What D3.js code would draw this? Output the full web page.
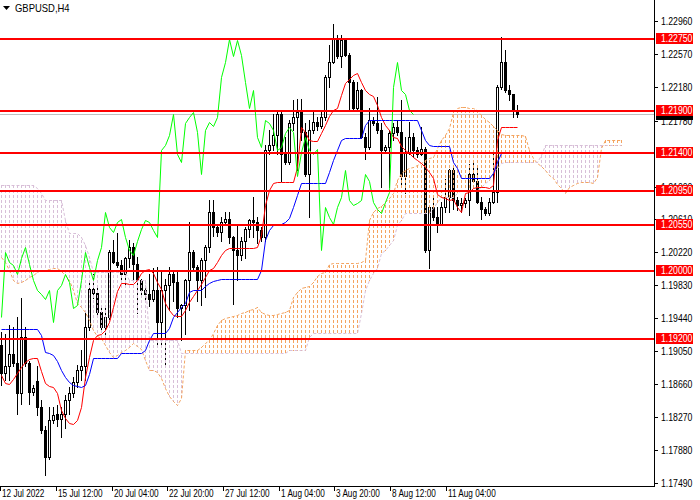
<!DOCTYPE html>
<html>
<head>
<meta charset="utf-8">
<script src="https://cdn.jsdelivr.net/npm/d3@7"></script>
<style>
  body { margin: 0; background: #fff; }
  svg { display: block; font-family: 'Liberation Sans', Arial, sans-serif; }
</style>
</head>
<body>
<script>
const symbol = 'GBPUSD,H4';

// H4 candles, oldest first
const opens = [
  1.1912, 1.1879, 1.1887, 1.1902, 1.1891, 1.1855, 1.1922, 1.1891, 1.1857, 1.1870,
  1.1839, 1.1812, 1.1780, 1.1823, 1.1831, 1.1825, 1.1831, 1.1847, 1.1855, 1.1869,
  1.1883, 1.1887, 1.1934, 1.1979, 1.1974, 1.1952, 1.1934, 1.1946, 1.2023, 1.2011,
  1.2007, 1.1997, 1.2015, 1.2029, 1.2008, 1.1989, 1.1977, 1.1973, 1.1967, 1.1977,
  1.1940, 1.1977, 1.1983, 1.1997, 1.1987, 1.1956, 1.1960, 1.1989, 1.2023, 1.2005,
  1.1989, 1.2013, 1.2029, 1.2070, 1.2052, 1.2046, 1.2058, 1.2062, 1.2040, 1.2025,
  1.2019, 1.2036, 1.2050, 1.2060, 1.2058, 1.2048, 1.2040, 1.2143, 1.2149, 1.2161,
  1.2186, 1.2139, 1.2129, 1.2175, 1.2182, 1.2188, 1.2165, 1.2115, 1.2167, 1.2177,
  1.2172, 1.2182, 1.2230, 1.2248, 1.2275, 1.2254, 1.2273, 1.2256, 1.2224, 1.2193,
  1.2214, 1.2159, 1.2147, 1.2179, 1.2175, 1.2167, 1.2143, 1.2147, 1.2163, 1.2171,
  1.2165, 1.2113, 1.2141, 1.2159, 1.2143, 1.2139, 1.2145, 1.2025, 1.2076, 1.2064,
  1.2056, 1.2076, 1.2088, 1.2119, 1.2084, 1.2078, 1.2080, 1.2084, 1.2115, 1.2107,
  1.2082, 1.2074, 1.2069, 1.2082, 1.2094, 1.2218, 1.2248, 1.2214, 1.2209, 1.2191
];
const highs = [
  1.1928, 1.1926, 1.1936, 1.1934, 1.1946, 1.1968, 1.1934, 1.1893, 1.1865, 1.1887,
  1.1847, 1.1816, 1.1839, 1.1839, 1.1841, 1.1839, 1.1853, 1.1863, 1.1875, 1.1889,
  1.1906, 1.1954, 1.1989, 1.1997, 1.1981, 1.1960, 1.1958, 1.2025, 1.2037, 1.2045,
  1.2013, 1.2017, 1.2037, 1.2033, 1.2017, 1.1991, 1.1981, 1.1997, 1.2003, 1.2005,
  1.1999, 1.1991, 1.2005, 1.1999, 1.1999, 1.1961, 1.1991, 1.2058, 1.2025, 1.2007,
  1.2015, 1.2031, 1.2084, 1.2084, 1.2054, 1.2064, 1.2070, 1.2070, 1.2042, 1.2054,
  1.2040, 1.2052, 1.2062, 1.2088, 1.2064, 1.2052, 1.2149, 1.2167, 1.2186, 1.2188,
  1.2188, 1.2159, 1.2179, 1.2202, 1.2204, 1.2204, 1.2175, 1.2179, 1.2188, 1.2182,
  1.2190, 1.2232, 1.2268, 1.2293, 1.2279, 1.2279, 1.2275, 1.2258, 1.2226, 1.2224,
  1.2216, 1.2163, 1.2193, 1.2182, 1.2206, 1.2175, 1.2149, 1.2167, 1.2175, 1.2179,
  1.2202, 1.2159, 1.2177, 1.2163, 1.2147, 1.2171, 1.2147, 1.2078, 1.2088, 1.2076,
  1.2082, 1.2109, 1.2121, 1.2123, 1.2088, 1.2086, 1.2086, 1.2127, 1.2129, 1.2125,
  1.2088, 1.2076, 1.2086, 1.2139, 1.2220, 1.2277, 1.2262, 1.2220, 1.2210, 1.2197
];
const lows = [
  1.1865, 1.1871, 1.1871, 1.1887, 1.1831, 1.1843, 1.1887, 1.1843, 1.1853, 1.1829,
  1.1808, 1.1758, 1.1778, 1.1820, 1.1816, 1.1804, 1.1814, 1.1831, 1.1851, 1.1863,
  1.1871, 1.1871, 1.1930, 1.1968, 1.1946, 1.1930, 1.1922, 1.1942, 1.2009, 1.2005,
  1.1989, 1.1985, 1.2005, 1.1989, 1.1950, 1.1969, 1.1965, 1.1958, 1.1965, 1.1914,
  1.1914, 1.1888, 1.1954, 1.1965, 1.1946, 1.1918, 1.1926, 1.1954, 1.2001, 1.1965,
  1.1960, 1.1969, 1.2023, 1.2042, 1.2042, 1.2035, 1.2056, 1.2033, 1.1961, 1.1989,
  1.2013, 1.2015, 1.2040, 1.2040, 1.2033, 1.2036, 1.2036, 1.2139, 1.2143, 1.2139,
  1.2107, 1.2127, 1.2127, 1.2167, 1.2119, 1.2155, 1.2113, 1.2064, 1.2163, 1.2167,
  1.2169, 1.2179, 1.2218, 1.2246, 1.2252, 1.2242, 1.2254, 1.2190, 1.2190, 1.2190,
  1.2157, 1.2133, 1.2145, 1.2173, 1.2163, 1.2100, 1.2141, 1.2100, 1.2155, 1.2161,
  1.2100, 1.2092, 1.2139, 1.2135, 1.2135, 1.2137, 1.2023, 1.2003, 1.2060, 1.2046,
  1.2054, 1.2070, 1.2070, 1.2074, 1.2072, 1.2070, 1.2076, 1.2066, 1.2105, 1.2080,
  1.2062, 1.2066, 1.2066, 1.2081, 1.2082, 1.2216, 1.2212, 1.2202, 1.2182, 1.2182
];
const closes = [
  1.1879, 1.1887, 1.1902, 1.1891, 1.1855, 1.1922, 1.1891, 1.1857, 1.1861, 1.1839,
  1.1812, 1.1780, 1.1823, 1.1829, 1.1825, 1.1831, 1.1847, 1.1855, 1.1869, 1.1883,
  1.1887, 1.1934, 1.1979, 1.1974, 1.1952, 1.1934, 1.1946, 1.2023, 1.2011, 1.2007,
  1.1997, 1.2015, 1.2029, 1.2008, 1.1989, 1.1977, 1.1973, 1.1967, 1.1977, 1.1940,
  1.1977, 1.1983, 1.1997, 1.1987, 1.1956, 1.1960, 1.1989, 1.2023, 1.2005, 1.1989,
  1.2013, 1.2029, 1.2070, 1.2052, 1.2046, 1.2058, 1.2062, 1.2040, 1.2025, 1.2019,
  1.2036, 1.2050, 1.2060, 1.2058, 1.2048, 1.2040, 1.2143, 1.2149, 1.2161, 1.2186,
  1.2139, 1.2129, 1.2175, 1.2182, 1.2188, 1.2165, 1.2115, 1.2167, 1.2177, 1.2172,
  1.2182, 1.2230, 1.2248, 1.2275, 1.2254, 1.2273, 1.2256, 1.2224, 1.2193, 1.2214,
  1.2159, 1.2147, 1.2179, 1.2175, 1.2167, 1.2143, 1.2147, 1.2163, 1.2171, 1.2165,
  1.2113, 1.2141, 1.2159, 1.2143, 1.2139, 1.2145, 1.2025, 1.2076, 1.2064, 1.2056,
  1.2076, 1.2088, 1.2119, 1.2084, 1.2078, 1.2080, 1.2084, 1.2115, 1.2107, 1.2082,
  1.2074, 1.2069, 1.2082, 1.2094, 1.2218, 1.2248, 1.2214, 1.2209, 1.2191, 1.2186
];

// Ichimoku lines
const tenkan = [
  1.1877, 1.1867, 1.1866, 1.1872, 1.1879, 1.1886, 1.1892, 1.1896, 1.1897, 1.1897,
  1.1882, 1.1867, 1.1864, 1.1863, 1.1856, 1.1836, 1.1826, 1.1820, 1.1819, 1.1824,
  1.1839, 1.1874, 1.1898, 1.1918, 1.1924, 1.1925, 1.1930, 1.1940, 1.1957, 1.1976,
  1.1986, 1.1986, 1.1985, 1.1985, 1.1989, 1.1998, 1.2001, 1.2002, 1.1998, 1.1987,
  1.1979, 1.1962, 1.1954, 1.1948, 1.1947, 1.1947, 1.1954, 1.1963, 1.1970, 1.1978,
  1.1985, 1.1993, 1.2001, 1.2004, 1.2011, 1.2019, 1.2025, 1.2027, 1.2027, 1.2027,
  1.2027, 1.2027, 1.2027, 1.2027, 1.2028, 1.2043, 1.2078, 1.2096, 1.2104, 1.2105,
  1.2105, 1.2105, 1.2105, 1.2105, 1.2123, 1.2171, 1.2165, 1.2155, 1.2154, 1.2154,
  1.2163, 1.2173, 1.2184, 1.2191, 1.2193, 1.2208, 1.2223, 1.2227, 1.2232, 1.2234,
  1.2224, 1.2214, 1.2210, 1.2207, 1.2197, 1.2182, 1.2173, 1.2167, 1.2159, 1.2158,
  1.2148, 1.2143, 1.2140, 1.2135, 1.2131, 1.2128, 1.2123, 1.2117, 1.2110, 1.2091,
  1.2088, 1.2086, 1.2084, 1.2085, 1.2076, 1.2070, 1.2092, 1.2094, 1.2098, 1.2100,
  1.2100, 1.2100, 1.2098, 1.2102, 1.2155, 1.2171, 1.2171, 1.2171, 1.2171, 1.2171
];
const kijun = [
  1.1931, 1.1931, 1.1931, 1.1931, 1.1931, 1.1931, 1.1931, 1.1931, 1.1931, 1.1931,
  1.1924, 1.1904, 1.1903, 1.1900, 1.1894, 1.1883, 1.1874, 1.1869, 1.1865, 1.1864,
  1.1863, 1.1865, 1.1878, 1.1897, 1.1897, 1.1897, 1.1897, 1.1897, 1.1897, 1.1897,
  1.1903, 1.1903, 1.1903, 1.1903, 1.1903, 1.1903, 1.1907, 1.1918, 1.1927, 1.1927,
  1.1927, 1.1927, 1.1932, 1.1946, 1.1951, 1.1957, 1.1962, 1.1975, 1.1978, 1.1978,
  1.1978, 1.1982, 1.1986, 1.1988, 1.1989, 1.1991, 1.1991, 1.1991, 1.1991, 1.1991,
  1.1991, 1.1991, 1.1991, 1.1991, 1.1991, 1.2001, 1.2037, 1.2049, 1.2055, 1.2056,
  1.2056, 1.2058, 1.2063, 1.2076, 1.2090, 1.2104, 1.2104, 1.2104, 1.2104, 1.2104,
  1.2104, 1.2104, 1.2117, 1.2131, 1.2143, 1.2155, 1.2158, 1.2158, 1.2158, 1.2158,
  1.2158, 1.2173, 1.2179, 1.2179, 1.2179, 1.2179, 1.2179, 1.2179, 1.2179, 1.2179,
  1.2179, 1.2179, 1.2179, 1.2179, 1.2179, 1.2167, 1.2155, 1.2149, 1.2148, 1.2148,
  1.2148, 1.2148, 1.2148, 1.2129, 1.2122, 1.2110, 1.2110, 1.2110, 1.2110, 1.2110,
  1.2110, 1.2110, 1.2110, 1.2116, 1.2129, 1.2140
];
// cloud spans, already shifted 26 bars forward
const spanA = [
  1.2017, 1.2011, 1.2001, 1.1989, 1.1986, 1.1987, 1.1989, 1.1993, 1.1995, 1.1999,
  1.2001, 1.2001, 1.2002, 1.2004, 1.2004, 1.2000, 1.1995, 1.1989, 1.1978, 1.1962,
  1.1957, 1.1951, 1.1942, 1.1930, 1.1923, 1.1921, 1.1912, 1.1904, 1.1898, 1.1901,
  1.1904, 1.1907, 1.1910, 1.1915, 1.1911, 1.1908, 1.1895, 1.1883, 1.1883, 1.1880,
  1.1873, 1.1862, 1.1852, 1.1846, 1.1841, 1.1850, 1.1907, 1.1907, 1.1907, 1.1907,
  1.1910, 1.1915, 1.1918, 1.1927, 1.1936, 1.1942, 1.1944, 1.1946, 1.1947, 1.1948,
  1.1950, 1.1951, 1.1954, 1.1955, 1.1957, 1.1951, 1.1949, 1.1948, 1.1948, 1.1949,
  1.1950, 1.1951, 1.1954, 1.1969, 1.1975, 1.1980, 1.1981, 1.1982, 1.1987, 1.1994,
  1.1998, 1.1999, 1.2008, 1.2010, 1.2010, 1.2010, 1.2010, 1.2010, 1.2010, 1.2010,
  1.2011, 1.2013, 1.2060, 1.2070, 1.2075, 1.2077, 1.2082, 1.2086, 1.2092, 1.2108,
  1.2116, 1.2120, 1.2122, 1.2123, 1.2126, 1.2128, 1.2131, 1.2134, 1.2135, 1.2146,
  1.2155, 1.2161, 1.2169, 1.2188, 1.2193, 1.2194, 1.2194, 1.2193, 1.2193, 1.2191,
  1.2185, 1.2180, 1.2176, 1.2172, 1.2167, 1.2162, 1.2161, 1.2161, 1.2161, 1.2161,
  1.2161, 1.2160, 1.2143, 1.2134, 1.2128, 1.2124, 1.2120, 1.2114, 1.2110, 1.2103,
  1.2098, 1.2092, 1.2100, 1.2102, 1.2104, 1.2105, 1.2105, 1.2105, 1.2104, 1.2111,
  1.2146, 1.2155, 1.2155, 1.2155, 1.2155, 1.2155
];
const spanB = [
  1.2102, 1.2102, 1.2102, 1.2102, 1.2102, 1.2102, 1.2102, 1.2102, 1.2102, 1.2098,
  1.2092, 1.2084, 1.2084, 1.2084, 1.2084, 1.2084, 1.2060, 1.2045, 1.2045, 1.2045,
  1.2040, 1.2031, 1.2017, 1.1999, 1.1999, 1.1999, 1.1999, 1.1999, 1.1999, 1.1999,
  1.1999, 1.1999, 1.1989, 1.1989, 1.1989, 1.1989, 1.1989, 1.1918, 1.1918, 1.1918,
  1.1918, 1.1918, 1.1918, 1.1918, 1.1918, 1.1903, 1.1903, 1.1903, 1.1903, 1.1903,
  1.1903, 1.1903, 1.1903, 1.1903, 1.1903, 1.1903, 1.1903, 1.1903, 1.1903, 1.1903,
  1.1903, 1.1903, 1.1903, 1.1903, 1.1903, 1.1903, 1.1903, 1.1903, 1.1903, 1.1903,
  1.1903, 1.1903, 1.1907, 1.1907, 1.1907, 1.1907, 1.1907, 1.1922, 1.1927, 1.1927,
  1.1927, 1.1927, 1.1927, 1.1927, 1.1927, 1.1927, 1.1927, 1.1927, 1.1927, 1.1927,
  1.1950, 1.1978, 1.1989, 1.1998, 1.2004, 1.2021, 1.2025, 1.2031, 1.2037, 1.2055,
  1.2060, 1.2069, 1.2069, 1.2069, 1.2069, 1.2069, 1.2069, 1.2069, 1.2075, 1.2082,
  1.2088, 1.2088, 1.2088, 1.2088, 1.2092, 1.2096, 1.2096, 1.2096, 1.2096, 1.2096,
  1.2100, 1.2104, 1.2108, 1.2117, 1.2122, 1.2128, 1.2129, 1.2129, 1.2129, 1.2129,
  1.2129, 1.2129, 1.2129, 1.2129, 1.2129, 1.2137, 1.2149, 1.2149, 1.2149, 1.2149,
  1.2149, 1.2149, 1.2149, 1.2149, 1.2149, 1.2149, 1.2149, 1.2149, 1.2149, 1.2149,
  1.2149, 1.2149, 1.2149, 1.2149, 1.2149, 1.2149
];
const chikouShift = 26;

// horizontal levels drawn on the chart
const levels = [1.2275, 1.2190, 1.2140, 1.2095, 1.2055, 1.2000, 1.1920];

// axis labels (1.21390 sits under the 1.21400 tag and is not shown)
const priceTicks = [1.2296, 1.2257, 1.2218, 1.2178, 1.2100, 1.2061, 1.2022,
  1.1983, 1.1944, 1.1905, 1.1866, 1.1827, 1.1788, 1.1749];
const timeLabels = ['12 Jul 2022', '15 Jul 12:00', '20 Jul 04:00', '22 Jul 20:00', '27 Jul 12:00',
  '1 Aug 04:00', '3 Aug 20:00', '8 Aug 12:00', '11 Aug 04:00'];
const timeTickBars = [-0.4, 13.55, 27.55, 41.45, 55.4, 69.3, 83.2, 97.1, 111.1];

const W = 700, H = 500;
const plotW = 654, plotH = 486;
const bull = 'rgb(244,164,96)', bear = 'rgb(216,191,216)';

const svg = d3.select('body').append('svg').attr('width', W).attr('height', H);

let x = d3.scaleLinear().domain([0, 1]).range([1.5, 5.5]);
let y = d3.scaleLinear().domain([1.1749, 1.2296]).range([483, 21]);
const py = (v) => Math.round(y(v));

// squeeze text a little to look like the narrow terminal font
function narrow(sel, k) {
  sel.each(function () {
    let w = this.getComputedTextLength();
    d3.select(this).attr('textLength', w * k).attr('lengthAdjust', 'spacingAndGlyphs');
  });
}

let defs = svg.append('defs');
defs.append('clipPath').attr('id', 'plotclip')
  .append('rect').attr('width', plotW).attr('height', plotH);
// dash patterns for the kumo histogram: 1px wide, 3 on / 2 off
[['kumoUp', bull], ['kumoDn', bear]].forEach(([id, c]) => {
  defs.append('pattern').attr('id', id)
    .attr('patternUnits', 'userSpaceOnUse').attr('width', 1).attr('height', 5)
    .append('rect').attr('width', 1).attr('height', 3).attr('fill', c);
});

let plot = svg.append('g').attr('clip-path', 'url(#plotclip)');

// current price line
let last = closes[closes.length - 1];
plot.append('line')
  .attr('x1', 0).attr('x2', plotW)
  .attr('y1', py(last) + 0.5).attr('y2', py(last) + 0.5)
  .attr('stroke', '#c0c0c0')
  .attr('shape-rendering', 'crispEdges');

// candles
let bars = closes.map((c, i) => ({ i: i, o: opens[i], h: highs[i], l: lows[i], c: c }));
let gCandles = plot.append('g').attr('shape-rendering', 'crispEdges');

gCandles.selectAll('line').data(bars).enter().append('line')
  .attr('x1', (d) => x(d.i)).attr('x2', (d) => x(d.i))
  .attr('y1', (d) => py(d.h)).attr('y2', (d) => py(d.l) + 1)
  .attr('stroke', '#000');

gCandles.selectAll('rect.bull').data(bars.filter((d) => d.c > d.o)).enter().append('rect')
  .attr('class', 'bull')
  .attr('x', (d) => x(d.i) - 1)
  .attr('y', (d) => py(d.c) + 0.5)
  .attr('width', 2)
  .attr('height', (d) => Math.max(py(d.o) - py(d.c), 1))
  .attr('fill', '#fff')
  .attr('stroke', '#000');

gCandles.selectAll('rect.bear').data(bars.filter((d) => d.c <= d.o)).enter().append('rect')
  .attr('class', 'bear')
  .attr('x', (d) => x(d.i) - 1.5)
  .attr('y', (d) => py(d.o))
  .attr('width', 3)
  .attr('height', (d) => Math.max(py(d.c) - py(d.o), 0) + 1)
  .attr('fill', '#000');

// kumo: dashed histogram between the spans, one column per bar
let cloud = spanA.map((a, i) => ({ i: i, a: a, b: spanB[i] }));
plot.append('g').attr('shape-rendering', 'crispEdges')
  .selectAll('rect').data(cloud).enter().append('rect')
  .attr('x', (d) => x(d.i) - 0.5)
  .attr('width', 1)
  .attr('y', (d) => Math.min(py(d.a), py(d.b)))
  .attr('height', (d) => Math.abs(py(d.a) - py(d.b)) + 1)
  .attr('fill', (d) => (d.a >= d.b ? 'url(#kumoUp)' : 'url(#kumoDn)'));

let line = d3.line().x((d, i) => x(i)).y((d) => py(d) + 0.5);

plot.append('path').datum(spanA).attr('d', line)
  .style('fill', 'none').style('stroke', bull).style('stroke-dasharray', '3 2');
plot.append('path').datum(spanB).attr('d', line)
  .style('fill', 'none').style('stroke', bear).style('stroke-dasharray', '3 2');

plot.append('path').datum(tenkan).attr('d', line)
  .attr('fill', 'none').attr('stroke', '#ff0000');
plot.append('path').datum(kijun).attr('d', line)
  .attr('fill', 'none').attr('stroke', '#0000ff');
plot.append('path').datum(closes.slice(chikouShift)).attr('d', line)
  .attr('fill', 'none').attr('stroke', '#00ff00');

// levels
plot.append('g').selectAll('line').data(levels).enter().append('line')
  .attr('x1', 0).attr('x2', plotW)
  .attr('y1', (d) => py(d)).attr('y2', (d) => py(d))
  .attr('stroke', '#ff0000').attr('stroke-width', 2)
  .attr('shape-rendering', 'crispEdges');

// frame
let axis = svg.append('g').attr('shape-rendering', 'crispEdges');
axis.append('line').attr('x1', plotW + 0.5).attr('x2', plotW + 0.5).attr('y1', 0).attr('y2', plotH + 1)
  .attr('stroke', '#000');
axis.append('line').attr('x1', 0).attr('x2', plotW + 1).attr('y1', plotH + 0.5).attr('y2', plotH + 0.5)
  .attr('stroke', '#000');

// price scale
let pt = axis.selectAll('g.pt').data(priceTicks).enter().append('g').attr('class', 'pt');
pt.append('line')
  .attr('x1', plotW + 1).attr('x2', plotW + 4)
  .attr('y1', (d) => py(d) + 0.5).attr('y2', (d) => py(d) + 0.5)
  .attr('stroke', '#000');
pt.append('text')
  .attr('x', plotW + 7).attr('y', (d) => py(d)).attr('dy', '0.36em')
  .attr('font-size', 10).attr('fill', '#000')
  .text((d) => d.toFixed(5))
  .call(narrow, 0.87);

// current price tag (its text is covered by the 1.21900 tag)
svg.append('rect').attr('x', plotW + 2).attr('y', py(last) - 5).attr('width', 37).attr('height', 11)
  .attr('fill', '#000').attr('shape-rendering', 'crispEdges');

// level tags
let lt = svg.selectAll('g.lt').data(levels).enter().append('g').attr('class', 'lt');
lt.append('rect')
  .attr('x', plotW + 2).attr('y', (d) => py(d) - 6).attr('width', 37).attr('height', 11)
  .attr('fill', '#ff0000').attr('shape-rendering', 'crispEdges');
lt.append('text')
  .attr('x', plotW + 7).attr('y', (d) => py(d) - 1).attr('dy', '0.36em')
  .attr('font-size', 10).attr('fill', '#fff')
  .text((d) => d.toFixed(5))
  .call(narrow, 0.87);

// time scale
let tt = axis.selectAll('g.tt').data(timeLabels).enter().append('g').attr('class', 'tt');
tt.append('line')
  .attr('x1', (d, i) => Math.round(x(timeTickBars[i])) + 0.5)
  .attr('x2', (d, i) => Math.round(x(timeTickBars[i])) + 0.5)
  .attr('y1', plotH + 1).attr('y2', plotH + 5)
  .attr('stroke', '#000');
tt.append('text')
  .attr('x', (d, i) => Math.round(x(timeTickBars[i])) + 2)
  .attr('y', 497)
  .attr('font-size', 10).attr('fill', '#000')
  .text((d) => d)
  .call(narrow, 0.82);

// title
svg.append('path').attr('d', d3.line()([[3, 6], [10, 6], [6.5, 10]]) + 'Z').attr('fill', '#000');
svg.append('text').attr('x', 15).attr('y', 12).attr('font-size', 10.5).attr('fill', '#000')
  .text(symbol)
  .call(narrow, 0.9);
</script>
</body>
</html>
